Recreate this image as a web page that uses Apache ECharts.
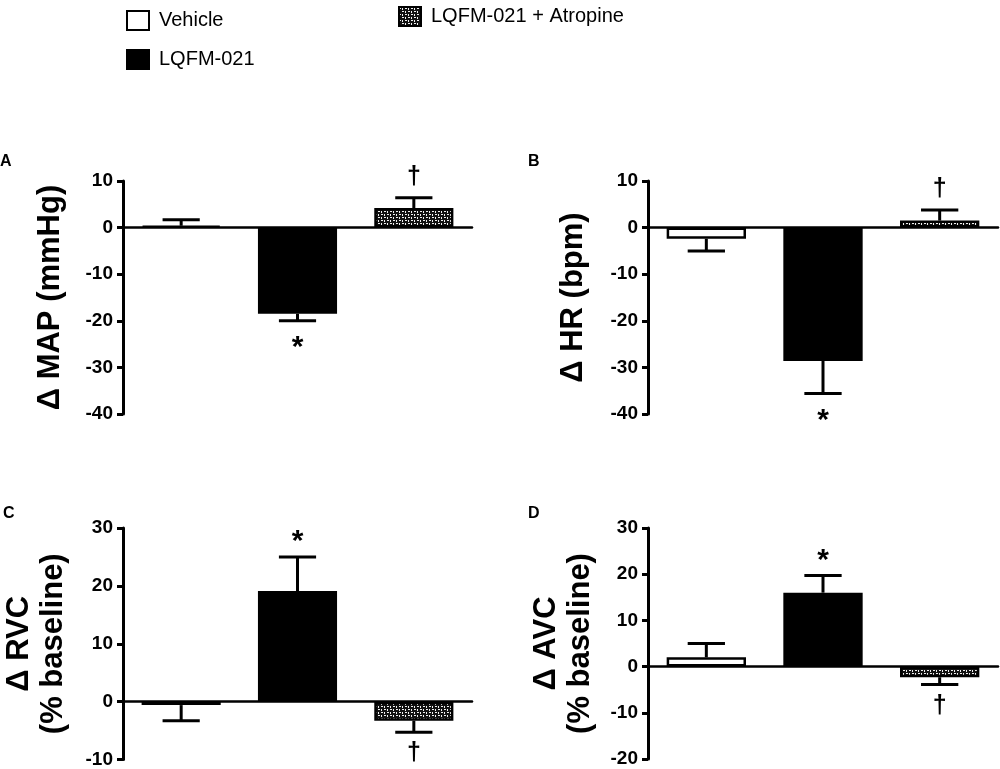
<!DOCTYPE html>
<html><head><meta charset="utf-8">
<script src="https://cdn.jsdelivr.net/npm/echarts@6/dist/echarts.min.js"></script>
<style>html,body{margin:0;padding:0;background:#fff}#c{width:1000px;height:769px}</style>
</head><body><div id="c"></div>
<script>
// ---- data ----
const groups = ['Vehicle', 'LQFM-021', 'LQFM-021 + Atropine'];
const meanA = [0.4, -18.5, 4.2];   const semA = [1.3, 1.5, 2.2];
const meanB = [-2.4, -28.6, 1.5];  const semB = [2.6, 7.0, 2.3];
const meanC = [-0.6, 19.1, -3.3];  const semC = [2.7, 5.9, 2.0];
const meanD = [2.0, 16.0, -2.3];   const semD = [3.0, 3.7, 1.6];
const marksA = ['', '*', '\u2020'];
const marksB = ['', '*', '\u2020'];
const marksC = ['', '*', '\u2020'];
const marksD = ['', '*', '\u2020'];
const yNames = ['\u0394 MAP (mmHg)', '\u0394 HR (bpm)', '\u0394 RVC\n(% baseline)', '\u0394 AVC\n(% baseline)'];
const yRanges = [[-40, 10], [-40, 10], [-10, 30], [-20, 30]];
const panelLetters = ['A', 'B', 'C', 'D'];

// ---- pattern ----
function makePattern() {
  const c = document.createElement('canvas');
  c.width = 6; c.height = 6;
  const g = c.getContext('2d');
  g.fillStyle = '#111'; g.fillRect(0, 0, 6, 6);
  g.fillStyle = '#f0f0f0';
  g.fillRect(0, 1, 2, 1); g.fillRect(3, 1, 1, 2);
  g.fillRect(3, 4, 2, 1); g.fillRect(0, 4, 1, 2);
  return c;
}
const pat = { image: makePattern(), repeat: 'repeat' };
const fills = ['#ffffff', '#000000', pat];

const panels = [
  { mean: meanA, sem: semA, marks: marksA },
  { mean: meanB, sem: semB, marks: marksB },
  { mean: meanC, sem: semC, marks: marksC },
  { mean: meanD, sem: semD, marks: marksD }
];
const gridPos = [
  { left: 123, top: 181, width: 349, height: 233 },
  { left: 648, top: 181, width: 350, height: 233 },
  { left: 123, top: 528, width: 349, height: 233 },
  { left: 648, top: 528, width: 350, height: 231 }
];
const nameGaps = [56, 58, 53, 51];
const FONT = 'Liberation Sans, Arial, sans-serif';

const grid = [], xAxis = [], yAxis = [], series = [], graphic = [];
panels.forEach((p, i) => {
  grid.push(gridPos[i]);
  xAxis.push({
    type: 'category', gridIndex: i, data: groups,
    axisLine: { show: true, onZero: true, lineStyle: { color: '#000', width: 2.5 } },
    axisTick: { show: false }, axisLabel: { show: false }, splitLine: { show: false }
  });
  yAxis.push({
    type: 'value', gridIndex: i, min: yRanges[i][0], max: yRanges[i][1], interval: 10,
    axisLine: { show: true, lineStyle: { color: '#000', width: 3 } },
    axisTick: { show: true, length: 6, lineStyle: { color: '#000', width: 3 } },
    axisLabel: { color: '#000', fontWeight: 'bold', fontSize: 19, fontFamily: FONT, margin: 10 },
    splitLine: { show: false },
    name: yNames[i], nameLocation: 'middle', nameGap: nameGaps[i], nameRotate: 90,
    nameTextStyle: { color: '#000', fontWeight: 'bold', fontSize: 31, fontFamily: FONT, lineHeight: 34 }
  });
  groups.forEach((gname, k) => {
    series.push({
      type: 'bar', name: gname, xAxisIndex: i, yAxisIndex: i,
      barWidth: '68%', barGap: '-100%',
      data: p.mean.map((v, j) => (j === k ? v : '-')),
      itemStyle: { color: fills[k], borderColor: '#000', borderWidth: 2.5 },
      emphasis: { disabled: true }, animation: false
    });
  });
  series.push({
    type: 'custom', name: 'err' + i, xAxisIndex: i, yAxisIndex: i, animation: false, z: 5,
    data: p.mean.map((v, j) => [j, v, p.sem[j]]),
    renderItem: function (params, api) {
      const j = api.value(0), v = api.value(1), e = api.value(2);
      const s = v >= 0 ? 1 : -1;
      const p0 = api.coord([j, v]);
      const p1 = api.coord([j, v + s * e]);
      const half = api.size([1, 0])[0] * 0.68 * 0.47 / 2;
      const st = { stroke: '#000', lineWidth: 3 };
      const children = [
        { type: 'line', shape: { x1: p0[0], y1: p0[1], x2: p1[0], y2: p1[1] }, style: st },
        { type: 'line', shape: { x1: p1[0] - half, y1: p1[1], x2: p1[0] + half, y2: p1[1] }, style: st }
      ];
      const m = p.marks[j];
      if (m) {
        const isStar = m === '*';
        const ty = p1[1] - s * 21 + (isStar ? 6 : 0);
        children.push({
          type: 'text', x: p1[0], y: ty,
          style: { text: m, fill: '#000', fontSize: isStar ? 30 : 25, fontWeight: 'bold',
                   fontFamily: FONT, align: 'center', verticalAlign: 'middle' }
        });
      }
      return { type: 'group', children: children };
    }
  });
});

const letterPos = [[0, 154], [528, 154], [3, 506], [528, 506]];
panelLetters.forEach((L, i) => {
  graphic.push({ type: 'text', left: letterPos[i][0], top: letterPos[i][1],
    style: { text: L, fill: '#000', font: 'bold 16px ' + FONT } });
});

const legendText = { color: '#000', fontSize: 20, fontFamily: FONT, padding: [0, 0, 0, 5] };
const chart = echarts.init(document.getElementById('c'), null, { renderer: 'canvas' });
chart.setOption({
  animation: false,
  backgroundColor: '#fff',
  grid: grid, xAxis: xAxis, yAxis: yAxis, series: series, graphic: graphic,
  legend: [
    { data: ['Vehicle', 'LQFM-021'], orient: 'vertical', left: 121, top: 5, itemGap: 18,
      icon: 'rect', itemWidth: 22, itemHeight: 19, selectedMode: false, textStyle: legendText },
    { data: ['LQFM-021 + Atropine'], orient: 'vertical', left: 393, top: 1,
      icon: 'rect', itemWidth: 22, itemHeight: 19, selectedMode: false, textStyle: legendText }
  ]
});
</script></body></html>
